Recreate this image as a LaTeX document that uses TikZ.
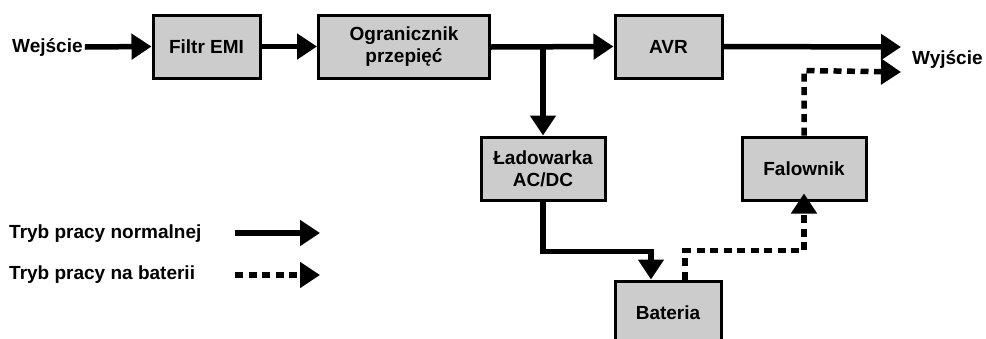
\documentclass[tikz,border=0pt]{standalone}
\usepackage{fontspec}
\setmainfont{Liberation Sans}
\usetikzlibrary{arrows.meta}
\begin{document}
\begin{tikzpicture}[x=1pt,y=-1pt,
  blk/.style={draw=black,line width=3pt,fill=black!20,align=center,font=\bfseries\fontsize{19}{22}\selectfont,inner sep=0pt},
  lbl/.style={font=\bfseries\fontsize{19}{22}\selectfont,inner sep=0pt},
  norm/.style={line width=5.5pt,-{Triangle[length=20pt,width=25pt]}},
  bat/.style={line width=5.5pt,dash pattern=on 8pt off 5.5pt,-{Triangle[length=20pt,width=25pt]}}]
\useasboundingbox (0,0) rectangle (986,338);
\clip (0,0) rectangle (986,338);
\node[blk,minimum width=107pt,minimum height=63pt] (emi) at (206.5,46.5) {Filtr EMI};
\node[blk,minimum width=171pt,minimum height=63pt] (ogr) at (404,46.5) {Ogranicznik\\przepięć};
\node[blk,minimum width=107pt,minimum height=63pt] (avr) at (668.5,46.5) {AVR};
\node[blk,minimum width=124pt,minimum height=63pt] (lad) at (543,168.5) {Ładowarka\\AC/DC};
\node[blk,minimum width=124pt,minimum height=63pt] (fal) at (804,168.5) {Falownik};
\node[blk,minimum width=106pt,minimum height=63pt] (bat) at (668,312.5) {Bateria};
\node[lbl,anchor=west] (we) at (12,48) {Wejście};
\node[lbl,anchor=west] (wy) at (912,60) {Wyjście};
\node[lbl,anchor=west] (l1) at (9,234) {Tryb pracy normalnej};
\node[lbl,anchor=west] (l2) at (9,275) {Tryb pracy na baterii};
\coordinate (outA) at (901,47);
\coordinate (outB) at (901,72);
\coordinate (br) at (lad.north |- avr.west);
\coordinate (l1a) at (235,233);
\coordinate (l1b) at (320,233);
\coordinate (l2a) at (235,275);
\coordinate (l2b) at (320,275);
\draw[norm] ([xshift=2pt]we.east |- 0,47) -- (emi.west);
\draw[norm] (emi.east) -- (ogr.west);
\draw[norm] (ogr.east |- 0,47) -- (avr.west);
\draw[norm] (br) -- (lad.north);
\draw[norm] (avr.east) -- (outA);
\draw[norm] (lad.south) -- ++(0,50) -| ([xshift=-17pt]bat.north);
\draw[bat] ([xshift=17pt]bat.north) -- ++(0,-29) -| ([yshift=8pt]fal.south);
\draw[bat] (fal.north) -- ++(0,-65) -- (outB);
\draw[norm] (l1a) -- (l1b);
\draw[bat] (l2a) -- (l2b);
\end{tikzpicture}
\end{document}
